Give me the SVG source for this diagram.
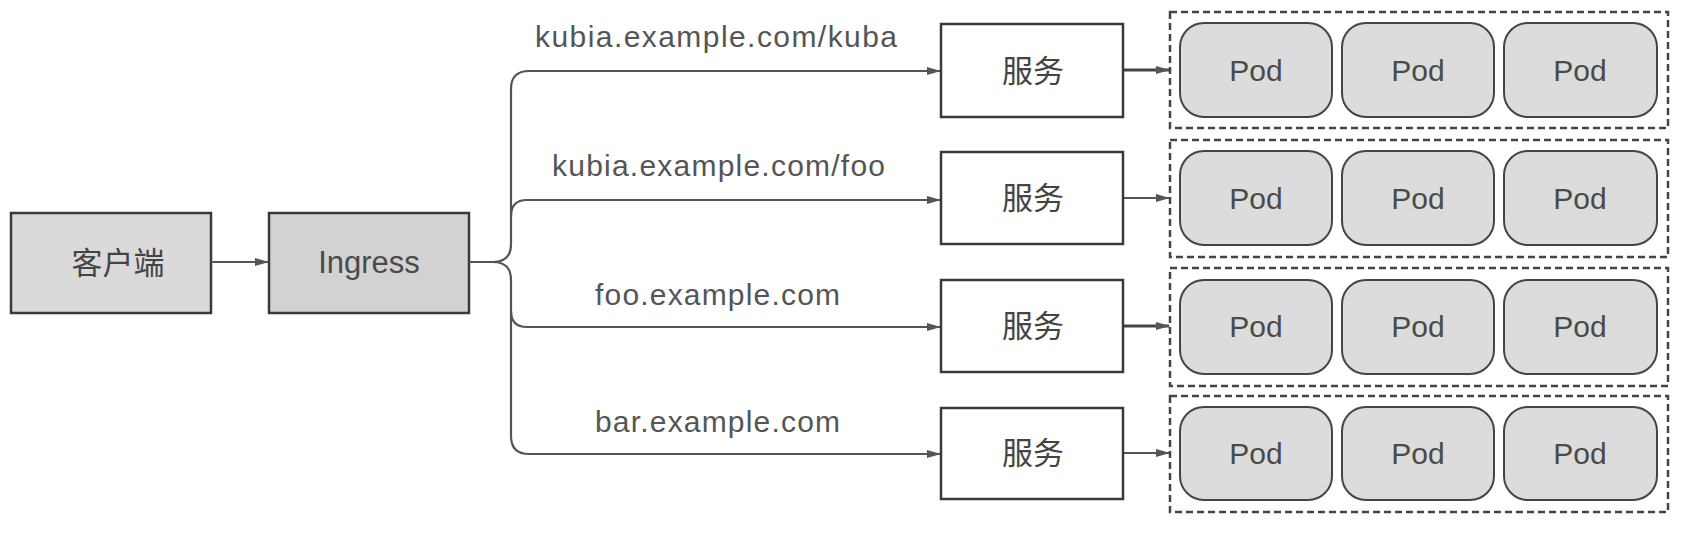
<svg xmlns="http://www.w3.org/2000/svg" width="1706" height="544" viewBox="0 0 1706 544">
<style>
  .box { stroke: #3a3a3a; stroke-width: 2.5; }
  .gray { fill: #dadada; }
  .dark { fill: #d2d2d2; }
  .svc { fill: #ffffff; stroke: #3a3a3a; stroke-width: 2.5; }
  .grp { fill: none; stroke: #444; stroke-width: 2.5; stroke-dasharray: 7 4; }
  .pod { fill: #dcdcdc; stroke: #444; stroke-width: 2; }
  .t { font-family: "Liberation Sans", Arial, "Noto Sans CJK SC", sans-serif; fill: #4a4a4a; text-anchor: middle; }
  .cjk { font-family: "Noto Sans CJK SC", "Liberation Sans", sans-serif; fill: #444; text-anchor: middle; font-size: 31px; }
  .pt { font-size: 30px; }
  .lbl { font-family: "Liberation Sans", Arial, sans-serif; fill: #555; font-size: 30px; }
  .c { fill: none; stroke: #555; stroke-width: 2.2; }
  .c2 { fill: none; stroke: #444; stroke-width: 3; }
</style>
<defs>
  <marker id="ah" markerWidth="14" markerHeight="10" refX="13" refY="5" orient="auto" markerUnits="userSpaceOnUse">
    <path d="M0,1 L14,5 L0,9 z" fill="#555"/>
  </marker>
</defs>

<g id="client">
  <rect class="box gray" x="11" y="213" width="200" height="100"/>
  <text class="cjk" x="118" y="274">客户端</text>
</g>
<g id="ingress">
  <rect class="box dark" x="269" y="213" width="200" height="100"/>
  <text class="t" x="369" y="273" font-size="31">Ingress</text>
</g>

<g id="connectors">
  <line class="c" x1="211" y1="262" x2="268" y2="262" marker-end="url(#ah)"/>
  <path class="c" d="M469,262 H493 Q511,262 511,244 V89 Q511,71 529,71 H940" marker-end="url(#ah)"/>
  <path class="c" d="M511,216 Q511,200 527,200 H940" marker-end="url(#ah)"/>
  <path class="c" d="M493,262 Q511,262 511,280 V436 Q511,454 529,454 H940" marker-end="url(#ah)"/>
  <path class="c" d="M511,311 Q511,327 527,327 H940" marker-end="url(#ah)"/>
  <line class="c2" x1="1123" y1="70" x2="1169" y2="70" marker-end="url(#ah)"/>
  <line class="c" x1="1123" y1="198" x2="1169" y2="198" marker-end="url(#ah)"/>
  <line class="c2" x1="1123" y1="326" x2="1169" y2="326" marker-end="url(#ah)"/>
  <line class="c" x1="1123" y1="453" x2="1169" y2="453" marker-end="url(#ah)"/>
  <text class="lbl" x="535" y="47" textLength="362" lengthAdjust="spacing">kubia.example.com/kuba</text>
  <text class="lbl" x="552" y="176" textLength="333" lengthAdjust="spacing">kubia.example.com/foo</text>
  <text class="lbl" x="595" y="305" textLength="245" lengthAdjust="spacing">foo.example.com</text>
  <text class="lbl" x="595" y="432" textLength="245" lengthAdjust="spacing">bar.example.com</text>
</g>

<g id="svc1"><rect class="svc" x="941" y="24" width="182" height="93"/><text class="cjk" x="1033" y="82">服务</text></g>
<g id="svc2"><rect class="svc" x="941" y="152" width="182" height="92"/><text class="cjk" x="1033" y="209">服务</text></g>
<g id="svc3"><rect class="svc" x="941" y="280" width="182" height="92"/><text class="cjk" x="1033" y="337">服务</text></g>
<g id="svc4"><rect class="svc" x="941" y="408" width="182" height="91"/><text class="cjk" x="1033" y="464">服务</text></g>

<g id="pods1">
  <rect class="grp" x="1170" y="12" width="498" height="116"/>
  <rect class="pod" x="1180" y="23" width="152" height="94" rx="24"/><text class="t pt" x="1256" y="81">Pod</text>
  <rect class="pod" x="1342" y="23" width="152" height="94" rx="24"/><text class="t pt" x="1418" y="81">Pod</text>
  <rect class="pod" x="1504" y="23" width="153" height="94" rx="24"/><text class="t pt" x="1580" y="81">Pod</text>
</g>
<g id="pods2">
  <rect class="grp" x="1170" y="140" width="498" height="117"/>
  <rect class="pod" x="1180" y="151" width="152" height="94" rx="24"/><text class="t pt" x="1256" y="209">Pod</text>
  <rect class="pod" x="1342" y="151" width="152" height="94" rx="24"/><text class="t pt" x="1418" y="209">Pod</text>
  <rect class="pod" x="1504" y="151" width="153" height="94" rx="24"/><text class="t pt" x="1580" y="209">Pod</text>
</g>
<g id="pods3">
  <rect class="grp" x="1170" y="268" width="498" height="118"/>
  <rect class="pod" x="1180" y="280" width="152" height="94" rx="24"/><text class="t pt" x="1256" y="337">Pod</text>
  <rect class="pod" x="1342" y="280" width="152" height="94" rx="24"/><text class="t pt" x="1418" y="337">Pod</text>
  <rect class="pod" x="1504" y="280" width="153" height="94" rx="24"/><text class="t pt" x="1580" y="337">Pod</text>
</g>
<g id="pods4">
  <rect class="grp" x="1170" y="396" width="498" height="116"/>
  <rect class="pod" x="1180" y="407" width="152" height="93" rx="24"/><text class="t pt" x="1256" y="464">Pod</text>
  <rect class="pod" x="1342" y="407" width="152" height="93" rx="24"/><text class="t pt" x="1418" y="464">Pod</text>
  <rect class="pod" x="1504" y="407" width="153" height="93" rx="24"/><text class="t pt" x="1580" y="464">Pod</text>
</g>
</svg>
